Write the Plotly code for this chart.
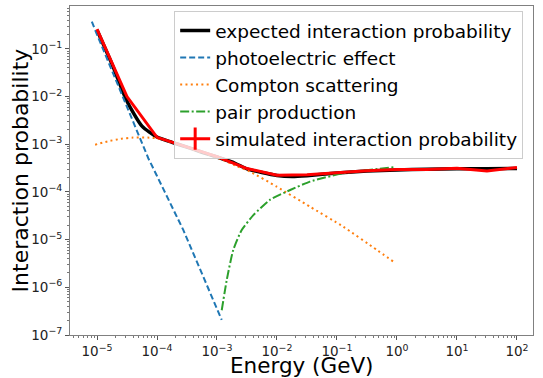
import plotly.graph_objects as go

# ---- data ----
# expected interaction probability (smooth curve)
exp_E = [1e-5, 1.78e-5, 3.16e-5, 5.62e-5, 1e-4, 1.78e-4, 3.16e-4, 5.62e-4, 1e-3, 2e-3,
         3.16e-3, 5.62e-3, 1e-2, 1.78e-2, 3.16e-2, 1e-1, 3.16e-1, 1.0, 3.16, 10.0, 31.6, 100.0]
exp_P = [0.25, 0.048, 8.0e-3, 2.4e-3, 1.42e-3, 1.1e-3, 8.7e-4, 6.8e-4, 5.4e-4, 4.0e-4,
         3.05e-4, 2.55e-4, 2.22e-4, 2.12e-4, 2.2e-4, 2.5e-4, 2.75e-4, 2.9e-4, 3.0e-4, 3.05e-4, 3.08e-4, 3.1e-4]

# photoelectric effect
pe_E = [8.2e-6, 1e-5, 3.16e-5, 7.16e-5, 1e-4, 2.74e-4, 1.2e-3]
pe_P = [0.373, 0.2, 6.1e-3, 5.1e-4, 2.16e-4, 1.6e-5, 2.07e-7]

# Compton scattering
cs_E = [9.3e-6, 1.5e-5, 2.5e-5, 4e-5, 7e-5, 1e-4, 2e-4, 3.16e-4, 6e-4, 1e-3, 2e-3,
        3.55e-3, 9.9e-3, 3.55e-2, 0.127, 0.46, 0.87]
cs_P = [9.8e-4, 1.15e-3, 1.3e-3, 1.38e-3, 1.38e-3, 1.33e-3, 1.05e-3, 8.6e-4, 6.6e-4, 5.3e-4, 3.6e-4,
        2.67e-4, 1.29e-4, 4.9e-5, 1.87e-5, 6.1e-6, 3.45e-6]

# pair production
pp_E = [1.2e-3, 1.45e-3, 1.86e-3, 2.57e-3, 4.07e-3, 7.6e-3, 1.66e-2, 3.55e-2, 0.127, 0.87]
pp_P = [3.3e-7, 1.4e-6, 6e-6, 1.58e-5, 3.3e-5, 6.8e-5, 1.1e-4, 1.65e-4, 2.47e-4, 3.3e-4]

# simulated interaction probability
sim_E = [1e-5, 3.16e-5, 1e-4, 3.16e-4, 1e-3, 3.16e-3, 1e-2, 3.16e-2, 1e-1, 3.16e-1,
         1.0, 3.16, 10.0, 31.6, 100.0]
sim_P = [0.26, 1.0e-2, 1.4e-3, 8.8e-4, 5.5e-4, 3.1e-4, 2.25e-4, 2.3e-4, 2.55e-4, 2.8e-4,
         2.95e-4, 2.95e-4, 3.15e-4, 2.75e-4, 3.25e-4]

# tick labels
x_exps = [-5, -4, -3, -2, -1, 0, 1, 2]
y_exps = [-7, -6, -5, -4, -3, -2, -1]

names = ["expected interaction probability", "photoelectric effect", "Compton scattering",
         "pair production", "simulated interaction probability"]


def pow_label(e):
    s = str(e).replace("-", "\u2212")
    return "10<sup>" + s + "</sup>"


FONT = "DejaVu Sans"
fig = go.Figure()
fig.add_trace(go.Scatter(x=exp_E, y=exp_P, mode="lines", name=names[0],
                         line=dict(color="black", width=3.5, shape="spline", smoothing=0.6)))
fig.add_trace(go.Scatter(x=pe_E, y=pe_P, mode="lines", name=names[1],
                         line=dict(color="#1f77b4", width=2, dash="6px,3px")))
fig.add_trace(go.Scatter(x=cs_E, y=cs_P, mode="lines", name=names[2],
                         line=dict(color="#ff7f0e", width=2, dash="2px,3.3px", shape="spline", smoothing=0.5)))
fig.add_trace(go.Scatter(x=pp_E, y=pp_P, mode="lines", name=names[3],
                         line=dict(color="#2ca02c", width=2, dash="9px,2.5px,2px,2.5px", shape="spline", smoothing=0.5)))
fig.add_trace(go.Scatter(x=sim_E, y=sim_P, mode="lines", showlegend=False,
                         line=dict(color="red", width=3)))
fig.add_trace(go.Scatter(x=[None], y=[None], mode="lines+markers", name=names[4],
                         line=dict(color="red", width=3),
                         marker=dict(symbol="line-ns", size=18, color="red",
                                     line=dict(color="red", width=3))))

axis_common = dict(
    type="log", showgrid=False, zeroline=False, automargin=False,
    showline=True, mirror=True, linecolor="#808080", linewidth=1,
    ticks="outside", ticklen=4, tickwidth=1, tickcolor="#555555",
    tickfont=dict(family=FONT, size=13.5, color="#222222"),
    minor=dict(ticks="outside", ticklen=2, tickwidth=0.7, tickcolor="#777777", dtick="D1"),
)
fig.update_xaxes(range=[-5.45, 2.267],
                 tickmode="array", tickvals=[10.0 ** e for e in x_exps],
                 ticktext=[pow_label(e) for e in x_exps],
                 title=dict(text=""),
                 **axis_common)
fig.update_yaxes(range=[-7, -0.1],
                 tickmode="array", tickvals=[10.0 ** e for e in y_exps],
                 ticktext=[pow_label(e) for e in y_exps],
                 title=dict(text=""),
                 **axis_common)

fig.update_layout(
    width=543, height=378,
    margin=dict(l=70, r=10, t=6, b=43, autoexpand=False),
    paper_bgcolor="white", plot_bgcolor="white",
    font=dict(family=FONT),
    legend=dict(x=0.225, y=0.985, xanchor="left", yanchor="top",
                bgcolor="rgba(255,255,255,0.8)", bordercolor="#cccccc", borderwidth=1,
                font=dict(family=FONT, size=18.5, color="black"), itemsizing="trace"),
    annotations=[
        dict(text="Energy (GeV)", xref="paper", yref="paper", x=0.5, y=-0.094,
             xanchor="center", yanchor="middle", showarrow=False,
             font=dict(family=FONT, size=21.5, color="black")),
        dict(text="Interaction probability", xref="paper", yref="paper", x=-0.106, y=0.5,
             xanchor="center", yanchor="middle", showarrow=False, textangle=-90,
             font=dict(family=FONT, size=22, color="black")),
    ],
)

fig.write_html("out.html")
